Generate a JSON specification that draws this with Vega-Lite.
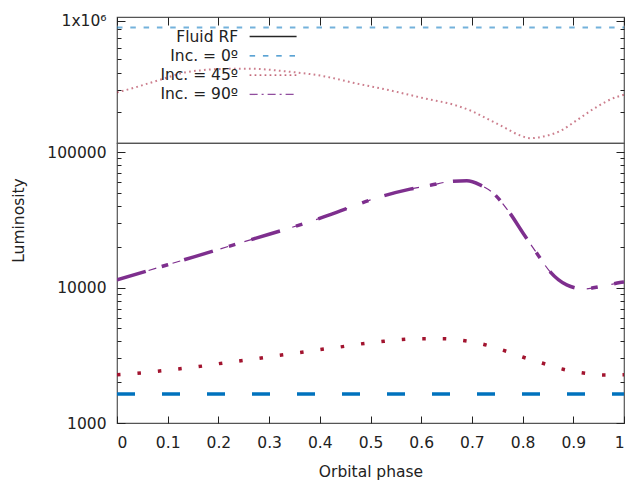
{
  "$schema": "https://vega.github.io/schema/vega-lite/v6.json",
  "padding": {"left": 11, "top": 13, "right": 5, "bottom": 0},
  "config": {
    "font": "DejaVu Sans",
    "view": {"stroke": "#555555", "strokeWidth": 1.2},
    "axis": {"grid": false, "domain": false, "tickColor": "#222222", "labelColor": "#222222", "titleColor": "#222222", "labelFontSize": 15.5, "titleFontSize": 15.5, "titleFontWeight": "normal", "labelFont": "DejaVu Sans", "titleFont": "DejaVu Sans"},
    "legend": {"orient": "none", "legendX": 147.6, "legendY": 11, "padding": 0, "symbolType": "M-3,0H3", "symbolSize": 245, "symbolStrokeWidth": 1.3, "symbolOpacity": 0.85, "labelAlign": "right", "labelOffset": -43.5, "labelFontSize": 15.5, "labelColor": "#222222", "labelFont": "DejaVu Sans", "rowPadding": 2.3}
  },
  "datasets": {
    "top": [
      {"phase": 0, "lum": 915000, "series": "Inc. = 0º"},
      {"phase": 1, "lum": 915000, "series": "Inc. = 0º"},
      {"phase": 0, "lum": 388000, "series": "Inc. = 45º"},
      {"phase": 0.033, "lum": 412000, "series": "Inc. = 45º"},
      {"phase": 0.065, "lum": 440000, "series": "Inc. = 45º"},
      {"phase": 0.098, "lum": 471000, "series": "Inc. = 45º"},
      {"phase": 0.131, "lum": 503000, "series": "Inc. = 45º"},
      {"phase": 0.164, "lum": 519000, "series": "Inc. = 45º"},
      {"phase": 0.197, "lum": 528000, "series": "Inc. = 45º"},
      {"phase": 0.262, "lum": 531000, "series": "Inc. = 45º"},
      {"phase": 0.328, "lum": 514000, "series": "Inc. = 45º"},
      {"phase": 0.407, "lum": 481000, "series": "Inc. = 45º"},
      {"phase": 0.473, "lum": 436000, "series": "Inc. = 45º"},
      {"phase": 0.538, "lum": 399000, "series": "Inc. = 45º"},
      {"phase": 0.604, "lum": 360000, "series": "Inc. = 45º"},
      {"phase": 0.67, "lum": 326000, "series": "Inc. = 45º"},
      {"phase": 0.7, "lum": 303000, "series": "Inc. = 45º"},
      {"phase": 0.729, "lum": 275000, "series": "Inc. = 45º"},
      {"phase": 0.762, "lum": 246000, "series": "Inc. = 45º"},
      {"phase": 0.795, "lum": 220000, "series": "Inc. = 45º"},
      {"phase": 0.815, "lum": 212000, "series": "Inc. = 45º"},
      {"phase": 0.841, "lum": 217000, "series": "Inc. = 45º"},
      {"phase": 0.874, "lum": 233000, "series": "Inc. = 45º"},
      {"phase": 0.907, "lum": 269000, "series": "Inc. = 45º"},
      {"phase": 0.939, "lum": 311000, "series": "Inc. = 45º"},
      {"phase": 0.985, "lum": 365000, "series": "Inc. = 45º"},
      {"phase": 1, "lum": 376000, "series": "Inc. = 45º"}
    ],
    "bottom": [
      {"phase": 0, "lum": 1638, "series": "Inc. = 0º"},
      {"phase": 1, "lum": 1638, "series": "Inc. = 0º"},
      {"phase": 0, "lum": 2275, "series": "Inc. = 45º"},
      {"phase": 0.04, "lum": 2330, "series": "Inc. = 45º"},
      {"phase": 0.08, "lum": 2411, "series": "Inc. = 45º"},
      {"phase": 0.12, "lum": 2506, "series": "Inc. = 45º"},
      {"phase": 0.16, "lum": 2607, "series": "Inc. = 45º"},
      {"phase": 0.2, "lum": 2742, "series": "Inc. = 45º"},
      {"phase": 0.24, "lum": 2872, "series": "Inc. = 45º"},
      {"phase": 0.28, "lum": 3008, "series": "Inc. = 45º"},
      {"phase": 0.32, "lum": 3165, "series": "Inc. = 45º"},
      {"phase": 0.36, "lum": 3310, "series": "Inc. = 45º"},
      {"phase": 0.4, "lum": 3482, "series": "Inc. = 45º"},
      {"phase": 0.44, "lum": 3645, "series": "Inc. = 45º"},
      {"phase": 0.48, "lum": 3835, "series": "Inc. = 45º"},
      {"phase": 0.52, "lum": 3990, "series": "Inc. = 45º"},
      {"phase": 0.56, "lum": 4127, "series": "Inc. = 45º"},
      {"phase": 0.6, "lum": 4198, "series": "Inc. = 45º"},
      {"phase": 0.64, "lum": 4198, "series": "Inc. = 45º"},
      {"phase": 0.68, "lum": 4085, "series": "Inc. = 45º"},
      {"phase": 0.72, "lum": 3835, "series": "Inc. = 45º"},
      {"phase": 0.76, "lum": 3464, "series": "Inc. = 45º"},
      {"phase": 0.8, "lum": 3073, "series": "Inc. = 45º"},
      {"phase": 0.84, "lum": 2761, "series": "Inc. = 45º"},
      {"phase": 0.88, "lum": 2494, "series": "Inc. = 45º"},
      {"phase": 0.92, "lum": 2342, "series": "Inc. = 45º"},
      {"phase": 0.96, "lum": 2264, "series": "Inc. = 45º"},
      {"phase": 1, "lum": 2275, "series": "Inc. = 45º"},
      {"phase": 0, "lum": 11400, "series": "Inc. = 90º"},
      {"phase": 0.1, "lum": 14760, "series": "Inc. = 90º"},
      {"phase": 0.2, "lum": 19140, "series": "Inc. = 90º"},
      {"phase": 0.3, "lum": 24790, "series": "Inc. = 90º"},
      {"phase": 0.381, "lum": 30740, "series": "Inc. = 90º"},
      {"phase": 0.446, "lum": 37500, "series": "Inc. = 90º"},
      {"phase": 0.5, "lum": 44460, "series": "Inc. = 90º"},
      {"phase": 0.578, "lum": 53360, "series": "Inc. = 90º"},
      {"phase": 0.62, "lum": 57200, "series": "Inc. = 90º"},
      {"phase": 0.657, "lum": 60720, "series": "Inc. = 90º"},
      {"phase": 0.69, "lum": 61470, "series": "Inc. = 90º"},
      {"phase": 0.716, "lum": 57410, "series": "Inc. = 90º"},
      {"phase": 0.742, "lum": 49860, "series": "Inc. = 90º"},
      {"phase": 0.775, "lum": 35480, "series": "Inc. = 90º"},
      {"phase": 0.801, "lum": 25230, "series": "Inc. = 90º"},
      {"phase": 0.828, "lum": 17960, "series": "Inc. = 90º"},
      {"phase": 0.854, "lum": 13130, "series": "Inc. = 90º"},
      {"phase": 0.887, "lum": 10470, "series": "Inc. = 90º"},
      {"phase": 0.92, "lum": 9780, "series": "Inc. = 90º"},
      {"phase": 0.953, "lum": 10170, "series": "Inc. = 90º"},
      {"phase": 0.992, "lum": 10890, "series": "Inc. = 90º"},
      {"phase": 1, "lum": 11000, "series": "Inc. = 90º"}
    ]
  },
  "spacing": 0,
  "bounds": "flush",
  "resolve": {"scale": {"color": "independent", "strokeDash": "independent", "y": "independent"}},
  "vconcat": [
    {
      "width": 507,
      "height": 126,
      "data": {"name": "top"},
      "resolve": {"axis": {"x": "independent", "y": "independent"}},
      "layer": [
        {
          "mark": {"type": "line", "interpolate": "monotone", "clip": true, "strokeWidth": 2, "opacity": 0.55},
          "encoding": {
            "x": {"field": "phase", "type": "quantitative", "scale": {"domain": [0, 1], "nice": false},
                  "axis": {"orient": "top", "values": [0, 0.1, 0.2, 0.3, 0.4, 0.5, 0.6, 0.7, 0.8, 0.9, 1], "labels": false, "title": null, "tickSize": -8}},
            "y": {"field": "lum", "type": "quantitative", "scale": {"type": "log", "domain": [199000, 1050000], "nice": false},
                  "axis": {"orient": "left", "values": [1000000], "labelExpr": "'1x10⁶'", "title": null, "tickSize": -8, "labelPadding": 19}},
            "color": {"field": "series", "type": "nominal",
                      "scale": {"domain": ["Fluid RF", "Inc. = 0º", "Inc. = 45º", "Inc. = 90º"], "range": ["#000000", "#0072bd", "#a2142f", "#7e2f8e"]},
                      "legend": {"title": null}},
            "strokeDash": {"field": "series", "type": "nominal",
                           "scale": {"domain": ["Fluid RF", "Inc. = 0º", "Inc. = 45º", "Inc. = 90º"], "range": [[1, 0], [5.5, 7.8], [1.7, 3.3], [8, 4, 2, 4]]},
                           "legend": {"title": null}}
          }
        },
        {
          "mark": {"type": "line", "opacity": 0},
          "encoding": {
            "x": {"field": "phase", "type": "quantitative", "axis": null},
            "y": {"field": "lum", "type": "quantitative", "axis": {"orient": "right", "values": [1000000], "labels": false, "title": null, "tickSize": -8}}
          }
        },
        {
          "mark": {"type": "line", "opacity": 0},
          "encoding": {
            "x": {"field": "phase", "type": "quantitative", "axis": null},
            "y": {"field": "lum", "type": "quantitative", "axis": {"orient": "left", "values": [200000, 300000, 400000, 500000, 600000, 700000, 800000, 900000], "labels": false, "title": null, "tickSize": -4}}
          }
        },
        {
          "mark": {"type": "line", "opacity": 0},
          "encoding": {
            "x": {"field": "phase", "type": "quantitative", "axis": null},
            "y": {"field": "lum", "type": "quantitative", "axis": {"orient": "right", "values": [200000, 300000, 400000, 500000, 600000, 700000, 800000, 900000], "labels": false, "title": null, "tickSize": -4}}
          }
        }
      ]
    },
    {
      "width": 507,
      "height": 280,
      "data": {"name": "bottom"},
      "resolve": {"axis": {"x": "independent", "y": "independent"}},
      "layer": [
        {
          "mark": {"type": "line", "interpolate": "monotone", "clip": true},
          "encoding": {
            "x": {"field": "phase", "type": "quantitative", "scale": {"domain": [0, 1], "nice": false},
                  "axis": {"orient": "bottom", "values": [0, 0.1, 0.2, 0.3, 0.4, 0.5, 0.6, 0.7, 0.8, 0.9, 1], "format": "~g", "title": "Orbital phase", "tickSize": -7, "labelPadding": 19, "titlePadding": 14}},
            "y": {"field": "lum", "type": "quantitative", "scale": {"type": "log", "domain": [1000, 117000], "nice": false},
                  "axis": {"orient": "left", "values": [1000, 10000, 100000], "format": "d", "title": "Luminosity", "tickSize": -8, "labelPadding": 19, "titlePadding": 20, "titleY": 77}},
            "color": {"field": "series", "type": "nominal",
                      "scale": {"domain": ["Inc. = 0º", "Inc. = 45º", "Inc. = 90º"], "range": ["#0072bd", "#a2142f", "#7e2f8e"]}, "legend": null},
            "strokeDash": {"field": "series", "type": "nominal",
                           "scale": {"domain": ["Inc. = 0º", "Inc. = 45º", "Inc. = 90º"], "range": [[18, 27], [3.5, 17], [30, 16.7, 6.7, 16.7]]}, "legend": null},
            "strokeWidth": {"field": "series", "type": "nominal",
                            "scale": {"domain": ["Inc. = 0º", "Inc. = 45º", "Inc. = 90º"], "range": [3.5, 3.5, 4.5]}, "legend": null}
          }
        },
        {
          "transform": [{"filter": "datum.series == 'Inc. = 90º'"}],
          "mark": {"type": "line", "interpolate": "monotone", "clip": true, "color": "#7e2f8e", "strokeWidth": 1.2, "strokeDash": [8, 17], "strokeDashOffset": 17},
          "encoding": {
            "x": {"field": "phase", "type": "quantitative", "axis": null},
            "y": {"field": "lum", "type": "quantitative", "axis": {"orient": "right", "values": [1000, 10000, 100000], "labels": false, "title": null, "tickSize": -8}}
          }
        },
        {
          "mark": {"type": "line", "opacity": 0},
          "encoding": {
            "x": {"field": "phase", "type": "quantitative", "axis": null},
            "y": {"field": "lum", "type": "quantitative", "axis": {"orient": "left", "values": [2000, 3000, 4000, 5000, 6000, 7000, 8000, 9000, 20000, 30000, 40000, 50000, 60000, 70000, 80000, 90000], "labels": false, "title": null, "tickSize": -4}}
          }
        },
        {
          "mark": {"type": "line", "opacity": 0},
          "encoding": {
            "x": {"field": "phase", "type": "quantitative", "axis": null},
            "y": {"field": "lum", "type": "quantitative", "axis": {"orient": "right", "values": [2000, 3000, 4000, 5000, 6000, 7000, 8000, 9000, 20000, 30000, 40000, 50000, 60000, 70000, 80000, 90000], "labels": false, "title": null, "tickSize": -4}}
          }
        }
      ]
    }
  ]
}
